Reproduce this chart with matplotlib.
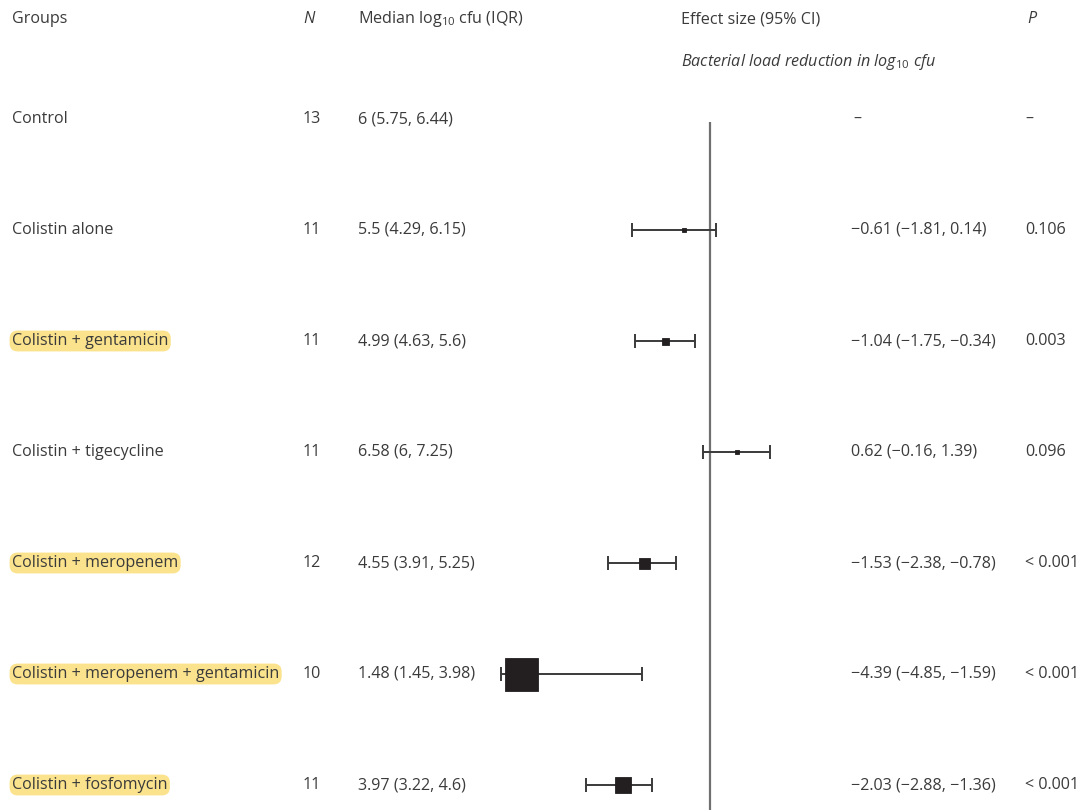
import matplotlib

matplotlib.use("Agg")
import matplotlib.pyplot as plt  # noqa: E402
from matplotlib.transforms import blended_transform_factory  # noqa: E402

groups = [
    "Control",
    "Colistin alone",
    "Colistin + gentamicin",
    "Colistin + tigecycline",
    "Colistin + meropenem",
    "Colistin + meropenem + gentamicin",
    "Colistin + fosfomycin",
]
n_obs = [13, 11, 11, 11, 12, 10, 11]
median = [6, 5.5, 4.99, 6.58, 4.55, 1.48, 3.97]
iqr_lo = [5.75, 4.29, 4.63, 6, 3.91, 1.45, 3.22]
iqr_hi = [6.44, 6.15, 5.6, 7.25, 5.25, 3.98, 4.6]
effect = [None, -0.61, -1.04, 0.62, -1.53, -4.39, -2.03]
ci_lo = [None, -1.81, -1.75, -0.16, -2.38, -4.85, -2.88]
ci_hi = [None, 0.14, -0.34, 1.39, -0.78, -1.59, -1.36]
p_text = ["–", "0.106", "0.003", "0.096", "< 0.001", "< 0.001", "< 0.001"]
highlight = [False, False, True, False, True, True, True]

# marker edge length of each square, in pixels
box_px = [0, 4, 7, 4, 11, 33, 16]

TEXT = "#3b3b3b"
LINE = "#3a3a3a"

plt.rcParams.update(
    {
        "font.family": ["Open Sans", "DejaVu Sans"],
        "font.size": 11.6,
        "mathtext.fontset": "custom",
        "mathtext.rm": "Open Sans",
        "mathtext.it": "Open Sans:italic",
    }
)

W, H, DPI = 1084, 810, 100
fig = plt.figure(figsize=(W / DPI, H / DPI), dpi=DPI)

# forest panel: zero line sits at x=710 px, 43 px per log10 unit
x0_px, x1_px, zero_px, px_per = 490, 800, 710, 43.0
ax = fig.add_axes([x0_px / W, 0, (x1_px - x0_px) / W, 1])
ax.set_xlim((x0_px - zero_px) / px_per, (x1_px - zero_px) / px_per)
row0_px, row_step = 119, 111
ax.set_ylim((H - row0_px) / row_step, -row0_px / row_step)
ax.axis("off")

ax.vlines(0, 0.03, (H - row0_px) / row_step, color="#707070", lw=1.6, zorder=1)

for i, (e, lo, hi) in enumerate(zip(effect, ci_lo, ci_hi)):
    if e is None:
        continue
    ax.errorbar(
        e, i, xerr=[[e - lo], [hi - e]], fmt="none", ecolor=LINE,
        elinewidth=1.4, capsize=5, capthick=1.4, zorder=2,
    )
    ax.plot(e, i, marker="s", ms=box_px[i] * 72 / DPI, color="#231f20",
            mec="#231f20", mew=0.6, ls="none", zorder=3)

tr = blended_transform_factory(fig.transFigure, ax.transData)


def fx(px):
    return px / W


def fmt(v):
    return f"{v:.2f}".replace("-", "\u2212")


for i in range(len(groups)):
    kw = dict(transform=tr, va="center", ha="left", color=TEXT)
    if highlight[i]:
        ax.text(fx(12), i, groups[i],
                bbox=dict(boxstyle="round,pad=0.15,rounding_size=0.5",
                          fc="#fbe38d", ec="none"), **kw)
    else:
        ax.text(fx(12), i, groups[i], **kw)
    ax.text(fx(303), i, str(n_obs[i]), **kw)
    ax.text(fx(358), i, f"{median[i]:g} ({iqr_lo[i]:g}, {iqr_hi[i]:g})", **kw)
    if effect[i] is None:
        ax.text(fx(853), i, "–", **kw)
    else:
        ax.text(fx(851), i, f"{fmt(effect[i])} ({fmt(ci_lo[i])}, {fmt(ci_hi[i])})", **kw)
    ax.text(fx(1025), i, p_text[i], **kw)

# column headers
hy = 1 - 19 / H
fig.text(fx(12), hy, "Groups", va="center", color=TEXT)
fig.text(fx(303), hy, "N", va="center", color=TEXT, style="italic")
fig.text(fx(358), hy, "Median log$_{10}$ cfu (IQR)", va="center", color=TEXT)
fig.text(fx(681), hy, "Effect size (95% CI)", va="center", color=TEXT)
fig.text(fx(1027), hy, "P", va="center", color=TEXT, style="italic")
fig.text(fx(681), 1 - 62 / H, "Bacterial load reduction in log$_{\\mathit{10}}$ cfu",
         va="center", color=TEXT, style="italic")

fig.savefig("out.png", dpi=DPI)
plt.close(fig)
